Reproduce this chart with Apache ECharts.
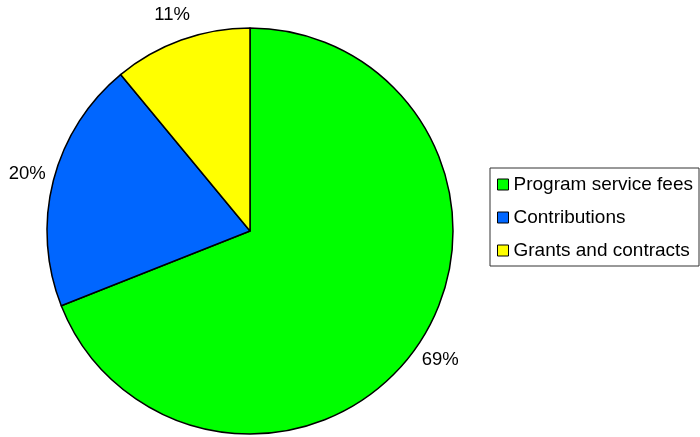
<!DOCTYPE html>
<html>
<head>
<meta charset="utf-8">
<script src="https://cdn.jsdelivr.net/npm/echarts@6/dist/echarts.min.js"></script>
<style>
  html, body { margin: 0; padding: 0; background: #fff; }
  #chart { width: 700px; height: 437px; }
</style>
</head>
<body>
<div id="chart"></div>
<script>
// Revenue sources (percent of total)
const categories = ['Program service fees', 'Contributions', 'Grants and contracts'];
const shares = [69, 20, 11];
const sliceColors = ['#00ff00', '#0066ff', '#ffff00'];

const CX = 250, CY = 231, R = 203, LABEL_R = 230;
const FONT = 'Liberation Sans, Arial, sans-serif';
const total = shares.reduce((a, b) => a + b, 0);

// mid-angle of each slice, clockwise from 12 o'clock
const midAngles = [];
let acc = 0;
shares.forEach(v => {
  midAngles.push((acc + v / 2) / total * 2 * Math.PI);
  acc += v;
});

const chart = echarts.init(document.getElementById('chart'), null, { renderer: 'canvas' });

chart.setOption({
  animation: false,
  backgroundColor: '#ffffff',
  textStyle: { fontFamily: FONT },
  legend: {
    orient: 'vertical',
    left: 490,
    top: 168,
    padding: [7, 6, 6, 7],
    itemGap: 14,
    itemWidth: 11,
    itemHeight: 11,
    icon: 'rect',
    borderColor: '#333',
    borderWidth: 1,
    selectedMode: false,
    itemStyle: { borderColor: '#000', borderWidth: 1 },
    textStyle: { fontSize: 19, color: '#000', fontFamily: FONT },
    data: categories
  },
  series: [{
    type: 'pie',
    center: [CX, CY],
    radius: [0, R],
    startAngle: 90,
    clockwise: true,
    silent: true,
    avoidLabelOverlap: false,
    itemStyle: { borderColor: '#000', borderWidth: 1.5 },
    label: {
      show: true,
      position: 'outside',
      overflow: 'none',
      formatter: p => p.value + '%',
      fontSize: 18.5,
      color: '#000',
      fontFamily: FONT
    },
    labelLine: { show: false },
    labelLayout: function (params) {
      const a = midAngles[params.dataIndex];
      return {
        x: CX + Math.sin(a) * LABEL_R,
        y: CY - Math.cos(a) * LABEL_R,
        align: 'center',
        verticalAlign: 'middle'
      };
    },
    data: categories.map((name, i) => ({
      name: name,
      value: shares[i],
      itemStyle: { color: sliceColors[i] }
    }))
  }]
});
</script>
</body>
</html>
